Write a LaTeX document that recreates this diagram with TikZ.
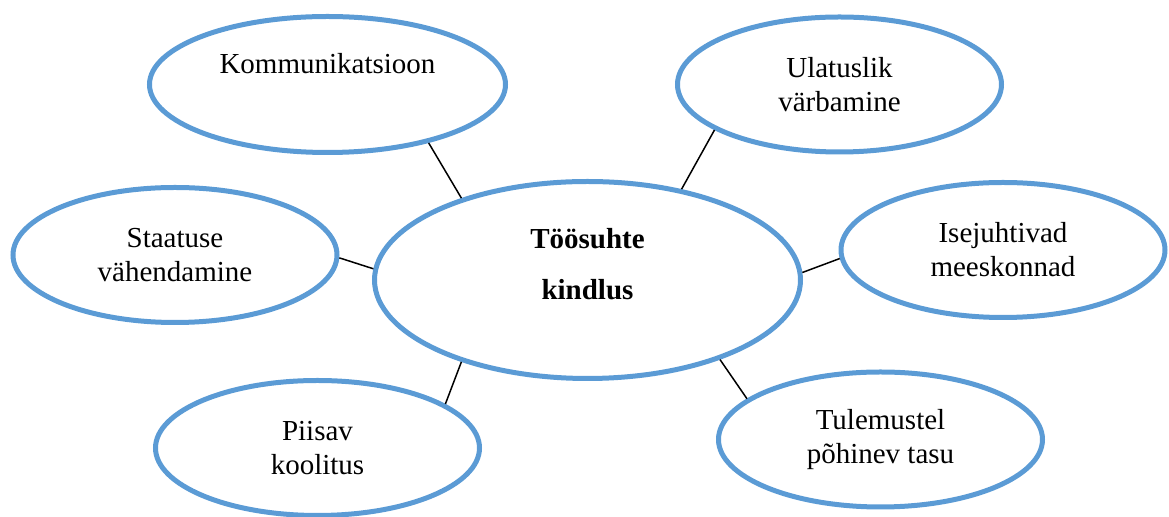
\documentclass[tikz,border=0pt]{standalone}
\usepackage{fontspec}
\setmainfont{Liberation Serif}
\usetikzlibrary{shapes.geometric}
\definecolor{bubbleblue}{HTML}{5B9BD5}

\begin{document}
\begin{tikzpicture}[x=0.5pt, y=-0.5pt,
  bubble/.style={
    ellipse, draw=bubbleblue, line width=2.5pt, align=center, inner sep=0pt,
    minimum width=162pt, minimum height=67.5pt,
    font=\fontsize{14.5}{17}\selectfont,
  },
  link/.style={line width=0.75pt}]
  \useasboundingbox (0,0) rectangle (1169,517);
  \node[bubble, minimum width=213pt, minimum height=98.5pt,
    font=\fontsize{14.5}{25.5}\selectfont\bfseries] (kindlus) at (587.5,280) {Töösuhte\\kindlus\\[-9pt]\mbox{}};
  \node[bubble, minimum width=178pt, minimum height=68pt] (komm) at (327.5,84.5) {Kommunikatsioon\\[4.5pt]\mbox{}};
  \node[bubble] (varb) at (839.5,84.5) {Ulatuslik\\värbamine};
  \node[bubble] (staat) at (175,255) {Staatuse\\vähendamine};
  \node[bubble] (meesk) at (1003,250) {Isejuhtivad\\meeskonnad};
  \node[bubble] (kool) at (317.5,448) {Piisav\\koolitus};
  \node[bubble] (tasu) at (880.5,439.5) {Tulemustel\\põhinev tasu};
  \draw[link] (komm.-30.4) -- (kindlus.147.5);
  \draw[link] (varb.200.9) -- (kindlus.44.7);
  \draw[link] (staat.-1.8) -- (kindlus.177.2);
  \draw[link] (meesk.183.2) -- (kindlus.2.3);
  \draw[link] (kool.19.9) -- (kindlus.213.7);
  \draw[link] (tasu.163.1) -- (kindlus.-31.9);
\end{tikzpicture}
\end{document}
